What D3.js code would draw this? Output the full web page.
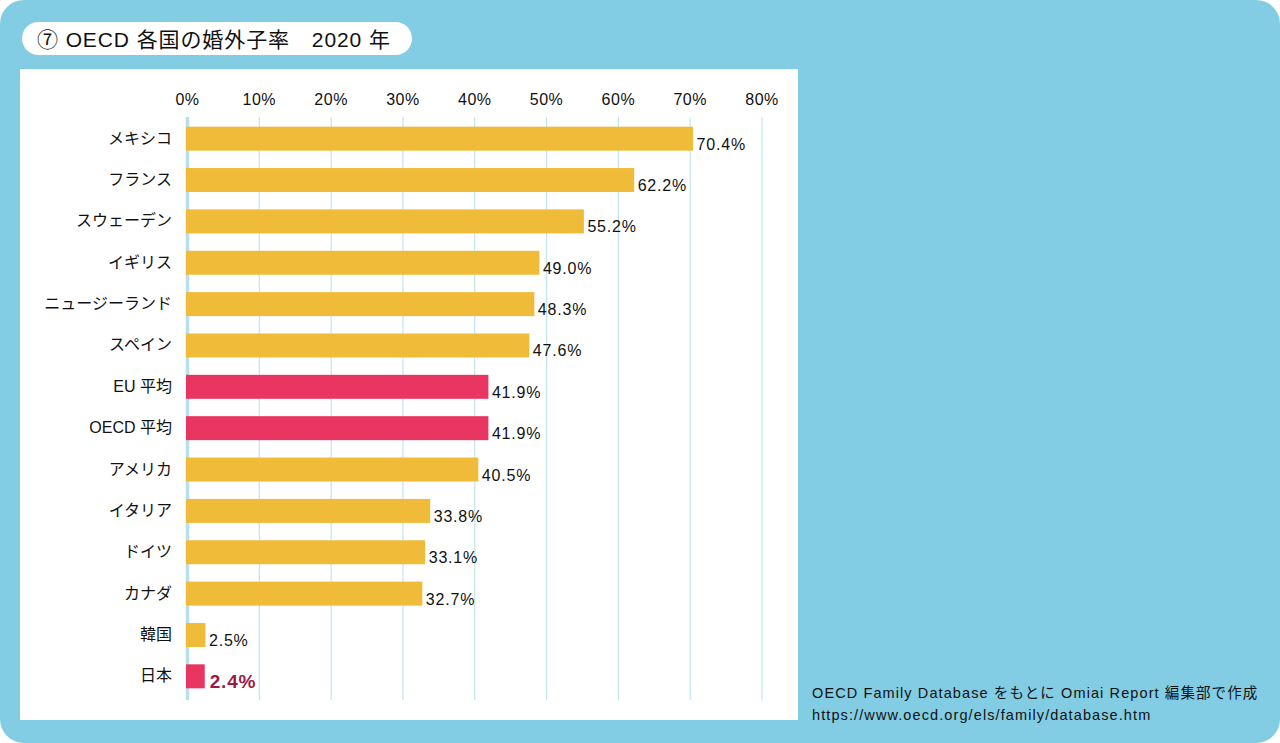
<!DOCTYPE html>
<html>
<head>
<meta charset="utf-8">
<script src="https://cdn.jsdelivr.net/npm/d3@7"></script>
<style>
  body { margin: 0; background: #fff; }
  text { font-family: "Liberation Sans", "Noto Sans CJK JP", sans-serif; }
</style>
</head>
<body>
<div id="chart"></div>
<script>
const countries = ["メキシコ", "フランス", "スウェーデン", "イギリス", "ニュージーランド", "スペイン",
    "EU 平均", "OECD 平均", "アメリカ", "イタリア", "ドイツ", "カナダ", "韓国", "日本"];
const rates = [70.4, 62.2, 55.2, 49.0, 48.3, 47.6, 41.9, 41.9, 40.5, 33.8, 33.1, 32.7, 2.5, 2.4];
const highlighted = ["EU 平均", "OECD 平均", "日本"];
const tickValues = [0, 10, 20, 30, 40, 50, 60, 70, 80];
const title = "⑦ OECD 各国の婚外子率　2020 年";
const sourceLines = ["OECD Family Database をもとに Omiai Report 編集部で作成",
    "https://www.oecd.org/els/family/database.htm"];

const W = 1280, H = 743;
const BG = "#82cde3", YELLOW = "#f0bb38", RED = "#e83561", GRID = "#c2e4ef";

const svg = d3.select("#chart").append("svg")
    .attr("width", W).attr("height", H);

// outer panel
svg.append("rect").attr("x", 0).attr("y", 0).attr("width", W).attr("height", H)
    .attr("rx", 24).attr("fill", BG);

// white plot panel
svg.append("rect").attr("x", 20).attr("y", 69).attr("width", 778).attr("height", 651)
    .attr("fill", "#fff");

// title pill
svg.append("rect").attr("x", 22).attr("y", 22).attr("width", 390).attr("height", 33)
    .attr("rx", 16.5).attr("fill", "#fff");
svg.append("text").attr("x", 37).attr("y", 47)
    .attr("font-size", 21).attr("letter-spacing", 0.9).attr("fill", "#111")
    .text(title);

const x = d3.scaleLinear().domain([0, 80]).range([187.5, 762]);
const y = d3.scaleBand().domain(countries).range([118, 697]).paddingInner(0.42).paddingOuter(0.21);

// gridlines
svg.append("g").selectAll("line")
    .data(tickValues)
    .enter()
    .append("line")
    .attr("x1", d => x(d)).attr("x2", d => x(d))
    .attr("y1", 117).attr("y2", 700)
    .attr("stroke", d => d === 0 ? "#b7e0ec" : GRID)
    .attr("stroke-width", d => d === 0 ? 3.5 : 1.2);

// tick labels
svg.append("g").selectAll("text")
    .data(tickValues)
    .enter()
    .append("text")
    .attr("x", d => x(d)).attr("y", 105)
    .attr("text-anchor", "middle")
    .attr("font-size", 16).attr("letter-spacing", 0.5).attr("fill", "#111")
    .text(d => d + "%");

// bars
svg.append("g").selectAll("rect")
    .data(countries)
    .enter()
    .append("rect")
    .attr("x", x(0) - 1.5)
    .attr("y", d => y(d))
    .attr("width", (d, i) => x(rates[i]) - x(0) + 1.5)
    .attr("height", y.bandwidth())
    .attr("fill", d => highlighted.includes(d) ? RED : YELLOW);

// category labels
svg.append("g").selectAll("text")
    .data(countries)
    .enter()
    .append("text")
    .attr("x", 172)
    .attr("y", d => y(d) + y.bandwidth() / 2 + 5)
    .attr("text-anchor", "end")
    .attr("font-size", 16).attr("fill", "#111")
    .text(d => d);

// value labels
svg.append("g").selectAll("text")
    .data(countries)
    .enter()
    .append("text")
    .attr("x", (d, i) => x(rates[i]) + (d === "日本" ? 5 : 3.5))
    .attr("y", d => y(d) + y.bandwidth() / 2 + (d === "日本" ? 12 : 11))
    .attr("font-size", d => d === "日本" ? 19 : 16)
    .attr("font-weight", d => d === "日本" ? 700 : 400)
    .attr("letter-spacing", 0.8)
    .attr("fill", d => d === "日本" ? "#9c1b46" : "#111")
    .text((d, i) => rates[i].toFixed(1) + "%");

// source
svg.append("g").selectAll("text")
    .data(sourceLines)
    .enter()
    .append("text")
    .attr("x", 812)
    .attr("y", (d, i) => 698 + i * 22)
    .attr("font-size", 14.5).attr("letter-spacing", 1.1).attr("fill", "#111")
    .text(d => d);
</script>
</body>
</html>
